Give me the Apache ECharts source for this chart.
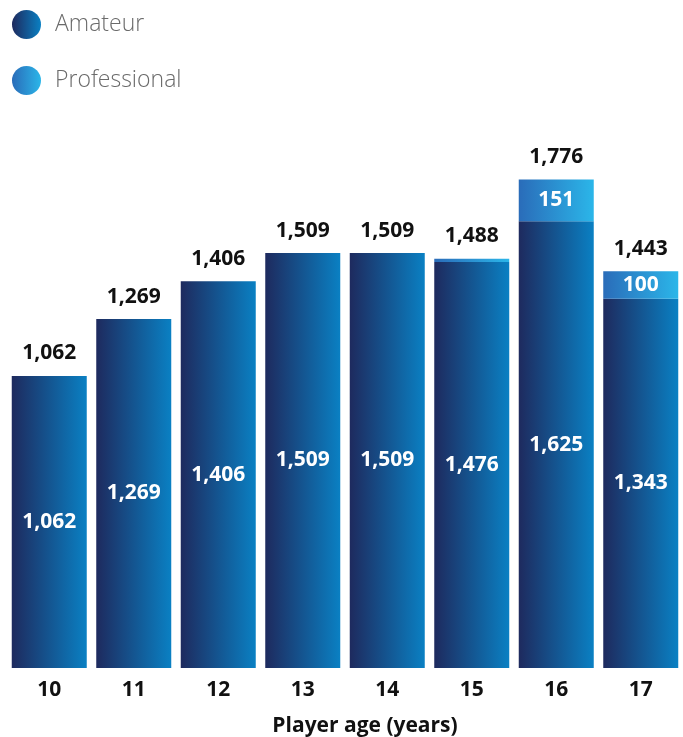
<!DOCTYPE html>
<html>
<head>
<meta charset="utf-8">
<script src="https://cdn.jsdelivr.net/npm/echarts@6/dist/echarts.min.js"></script>
<style>
  html, body { margin: 0; padding: 0; background: #fff; }
  #chart { width: 683px; height: 737px; }
</style>
</head>
<body>
<div id="chart"></div>
<script>
// player age categories and counts
let ages = ['10', '11', '12', '13', '14', '15', '16', '17'];
let amateur = [1062, 1269, 1406, 1509, 1509, 1476, 1625, 1343];
let professional = [0, 0, 0, 0, 0, 12, 151, 100];
let totals = [1062, 1269, 1406, 1509, 1509, 1488, 1776, 1443];

(function () {
    let fmt = function (v) {
        return Number(v).toLocaleString('en-US');
    };
    let grad = function (a, b) {
        return new echarts.graphic.LinearGradient(0, 0, 1, 0, [
            {offset: 0, color: a},
            {offset: 1, color: b}
        ]);
    };
    let font = '"Open Sans", "Noto Sans", sans-serif';

    let myChart = echarts.init(document.querySelector('#chart'));
    let option = {
        animation: false,
        textStyle: {fontFamily: font},
        legend: {
            orient: 'vertical',
            left: 12,
            top: 10,
            padding: 0,
            itemWidth: 29,
            itemHeight: 29,
            itemGap: 27,
            icon: 'circle',
            textStyle: {fontSize: 23, color: '#6a6a6a', fontWeight: 300, fontFamily: font, padding: [0, 0, 0, 9]},
            data: ['Amateur', 'Professional']
        },
        grid: {left: 7, right: 0, top: 118, bottom: 69, outerBoundsMode: 'none', containLabel: false},
        xAxis: {
            type: 'category',
            data: ages,
            axisLine: {show: false},
            axisTick: {show: false},
            axisLabel: {fontSize: 21, fontWeight: 'bold', color: '#111', margin: 12},
            name: 'Player age (years)',
            nameLocation: 'middle',
            nameGap: 48,
            nameTextStyle: {fontSize: 21, fontWeight: 'bold', color: '#111', padding: [0, 0, 0, 40]}
        },
        yAxis: {type: 'value', min: 0, max: 2000, show: false},
        series: [
            {
                name: 'Amateur',
                type: 'bar',
                stack: 'all',
                barWidth: 75,
                data: amateur,
                itemStyle: {color: grad('#1e2a5e', '#0a80c3')},
                label: {
                    show: true,
                    position: 'inside',
                    color: '#fff',
                    fontSize: 21,
                    fontWeight: 'bold',
                    formatter: function (p) { return fmt(p.value); }
                }
            },
            {
                name: 'Professional',
                type: 'bar',
                stack: 'all',
                barWidth: 75,
                data: professional,
                itemStyle: {color: grad('#2a6cb9', '#2bb6e9')},
                label: {
                    show: true,
                    position: 'inside',
                    color: '#fff',
                    fontSize: 21,
                    fontWeight: 'bold',
                    formatter: function (p) { return p.value >= 50 ? fmt(p.value) : ''; }
                }
            },
            {
                name: 'Total',
                type: 'bar',
                stack: 'all',
                barWidth: 75,
                data: ages.map(() => 0),
                itemStyle: {color: 'transparent'},
                label: {
                    show: true,
                    position: 'top',
                    distance: 12,
                    color: '#111',
                    fontSize: 21,
                    fontWeight: 'bold',
                    formatter: function (p) { return fmt(totals[p.dataIndex]); }
                }
            }
        ]
    };
    myChart.setOption(option);
})();
</script>
</body>
</html>
